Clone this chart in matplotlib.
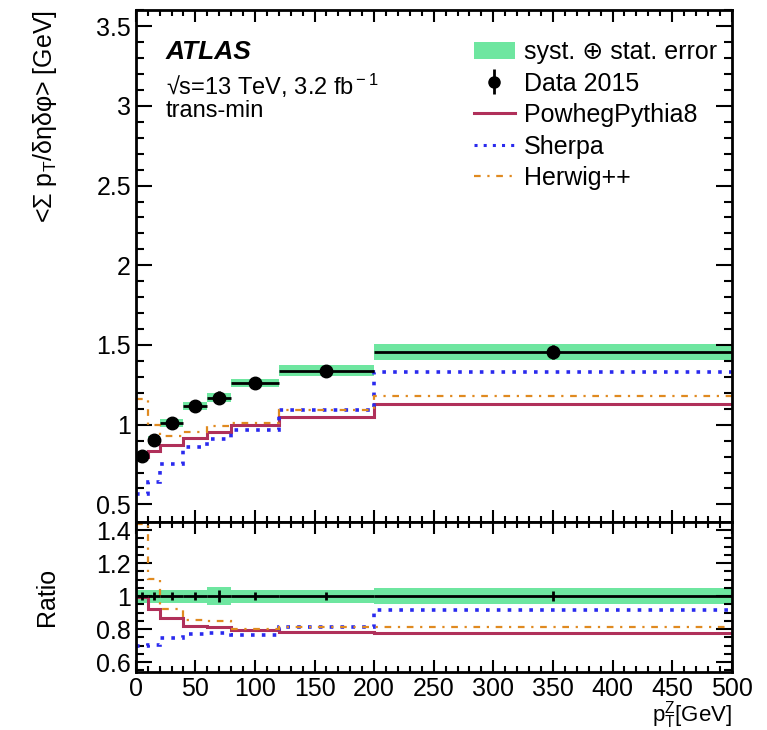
import numpy as np
import matplotlib
matplotlib.use("Agg")
import matplotlib.pyplot as plt
from matplotlib.patches import Patch
from matplotlib.lines import Line2D

plt.rcParams['font.family'] = ['Liberation Sans', 'DejaVu Sans']
plt.rcParams['mathtext.fontset'] = 'custom'
plt.rcParams['mathtext.rm'] = 'Liberation Sans'
plt.rcParams['mathtext.it'] = 'Liberation Sans:italic'

# ---- data ----
bin_edges = [0, 10, 20, 40, 60, 80, 120, 200, 500]
data_x = [5, 15, 30, 50, 70, 100, 160, 350]
data_y = [0.806, 0.906, 1.01, 1.12, 1.17, 1.26, 1.34, 1.455]
data_stat = [0.02, 0.022, 0.025, 0.028, 0.04, 0.03, 0.03, 0.045]
data_syst = [0.025, 0.025, 0.025, 0.025, 0.03, 0.025, 0.035, 0.05]
ratio_band = [0.04, 0.04, 0.04, 0.04, 0.055, 0.04, 0.04, 0.05]
powheg = [0.80, 0.835, 0.875, 0.917, 0.952, 1.0, 1.05, 1.13]
sherpa = [0.5625, 0.64, 0.756, 0.86, 0.91, 0.964, 1.09, 1.33]
herwig = [1.16, 1.0, 0.93, 0.955, 0.99, 1.01, 1.09, 1.18]

edges = np.array(bin_edges, float)
dx = np.array(data_x, float)
dy = np.array(data_y)
stat = np.array(data_stat)
syst = np.array(data_syst)
xerr = [dx - edges[:-1], edges[1:] - dx]

GREEN = '#6ee6a0'
RED = '#b0305a'
BLUE = '#2a2aee'
ORANGE = '#e08a20'
FS = 18

fig = plt.figure(figsize=(7.67, 7.30), dpi=100)
ax = fig.add_axes([0.177, 0.285, 0.777, 0.701])
axr = fig.add_axes([0.177, 0.0795, 0.777, 0.2055], sharex=ax)

# upper panel
ax.stairs(dy + syst, edges, baseline=dy - syst, fill=True, color=GREEN, lw=0, zorder=1)
ax.stairs(powheg, edges, baseline=None, color=RED, lw=2.2, zorder=2)
ax.stairs(sherpa, edges, baseline=None, color=BLUE, lw=2.6, ls=(0, (1, 2)), zorder=2)
ax.stairs(herwig, edges, baseline=None, color=ORANGE, lw=1.6, ls=(0, (3, 3, 1, 3)), zorder=2)
ax.errorbar(dx, dy, xerr=xerr, yerr=stat, fmt='o', color='black', ms=9,
            elinewidth=2, capsize=0, zorder=3)

ax.set_xlim(0, 500)
ax.set_ylim(0.39, 3.6)
ax.set_ylabel('<\u03a3 p$_{\\rm T}$/\u03b4\u03b7\u03b4\u03c6> [GeV]', fontsize=FS, loc='top')
ax.yaxis.set_label_coords(-0.128, 1.0)

# ratio panel
rb = np.array(ratio_band)
axr.stairs(1 + rb, edges, baseline=1 - rb, fill=True, color=GREEN, lw=0, zorder=1)
axr.stairs(np.array(powheg) / dy, edges, baseline=None, color=RED, lw=2.2, zorder=2)
axr.stairs(np.array(sherpa) / dy, edges, baseline=None, color=BLUE, lw=2.6, ls=(0, (1, 2)), zorder=2)
axr.stairs(np.array(herwig) / dy, edges, baseline=None, color=ORANGE, lw=1.6,
           ls=(0, (3, 3, 1, 3)), zorder=2)
axr.errorbar(dx, np.ones_like(dx), xerr=xerr, yerr=stat / dy, fmt='none', ecolor='black',
             elinewidth=2, capsize=0, zorder=3)
axr.set_ylim(0.54, 1.45)
axr.set_ylabel('Ratio', fontsize=FS)
axr.yaxis.set_label_coords(-0.128, 0.5)
axr.set_xlabel('p$_{\\rm T}^{\\rm Z}$[GeV]', fontsize=16, loc='right')
axr.xaxis.set_label_coords(1.0, -0.18)

for a in (ax, axr):
    for s in a.spines.values():
        s.set_linewidth(2)
    a.tick_params(which='both', direction='in', top=True, right=True, width=1.5, labelsize=FS)
    a.tick_params(axis='y', which='major', length=11.5)
    a.tick_params(axis='y', which='minor', length=5.8)
    a.tick_params(axis='x', which='major', length=8.6)
    a.tick_params(axis='x', which='minor', length=4.3)
    a.set_xticks(np.arange(0, 501, 50))
    a.set_xticks(np.arange(0, 501, 10), minor=True)

ax.set_yticks([0.5, 1, 1.5, 2, 2.5, 3, 3.5])
ax.set_yticklabels(['0.5', '1', '1.5', '2', '2.5', '3', '3.5'])
ax.set_yticks(np.arange(0.5, 3.61, 0.1), minor=True)
ax.tick_params(labelbottom=False)
axr.set_yticks([0.6, 0.8, 1.0, 1.2, 1.4])
axr.set_yticklabels(['0.6', '0.8', '1', '1.2', '1.4'])
axr.set_yticks(np.arange(0.55, 1.45, 0.05), minor=True)

# annotations
ax.text(0.05, 0.918, 'ATLAS', transform=ax.transAxes, fontsize=19, fontweight='bold',
        fontstyle='italic', va='center')
ax.text(0.05, 0.852, '\u221as=13 TeV, 3.2 fb$^{\\rm -1}$', transform=ax.transAxes,
        fontsize=17, va='center')
ax.text(0.05, 0.803, 'trans-min', transform=ax.transAxes, fontsize=17, va='center')

handles = [
    Patch(facecolor=GREEN, edgecolor='none'),
    ax.errorbar([], [], yerr=[], fmt='o', color='black', ms=8, elinewidth=2),
    Line2D([], [], color=RED, lw=2.2),
    Line2D([], [], color=BLUE, lw=2.2, ls=(0, (1, 2))),
    Line2D([], [], color=ORANGE, lw=1.6, ls=(0, (3, 3, 1, 3))),
]
labels = ['syst. \u2295 stat. error', 'Data 2015', 'PowhegPythia8', 'Sherpa', 'Herwig++']
ax.legend(handles, labels, loc='upper right', bbox_to_anchor=(1.0, 0.971), frameon=False,
          fontsize=FS, handlelength=1.64, labelspacing=0.3, handletextpad=0.35,
          borderaxespad=0.2)

fig.savefig('out.png', dpi=100)
